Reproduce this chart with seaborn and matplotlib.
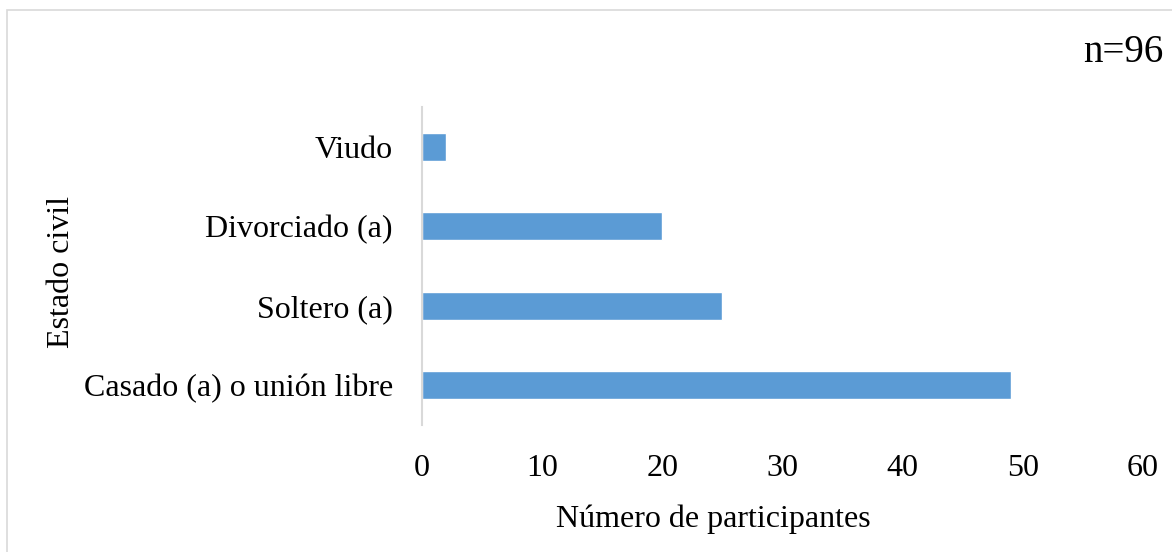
import matplotlib
matplotlib.use("Agg")
import matplotlib.pyplot as plt
import seaborn as sns
import pandas as pd
from matplotlib.patches import Rectangle

categories = ["Viudo", "Divorciado (a)", "Soltero (a)", "Casado (a) o unión libre"]
values = [2, 20, 25, 49]
x_ticks = [0, 10, 20, 30, 40, 50, 60]

sns.set_theme(style="white")
plt.rcParams['font.family'] = ['Liberation Serif', 'DejaVu Serif']
plt.rcParams['text.color'] = 'black'
plt.rcParams['axes.labelcolor'] = 'black'
plt.rcParams['xtick.color'] = 'black'
plt.rcParams['ytick.color'] = 'black'

df = pd.DataFrame({"cat": categories, "val": values})

fig = plt.figure(figsize=(11.72, 5.52), dpi=100)
ax = fig.add_axes([422/1172, 1-425/552, (1143-422)/1172, (425-107)/552])

sns.barplot(data=df, x="val", y="cat", orient="h", color="#5B9BD5",
            saturation=1, width=0.35, ax=ax)

ax.set_xlim(0, 60)
ax.set_ylim(3.5, -0.5)
ax.set_xticks(x_ticks)
ax.set_xticklabels([str(t) for t in x_ticks], fontsize=23)
ax.tick_params(axis='x', length=0, pad=21)
ax.tick_params(axis='y', length=0, pad=21, labelsize=23)
for s in ["top", "right", "bottom"]:
    ax.spines[s].set_visible(False)
ax.spines["left"].set_color("#D9D9D9")
ax.spines["left"].set_linewidth(1.5)
ax.set_xlabel("Número de participantes", fontsize=23)
ax.xaxis.set_label_coords((713-422)/(1143-422), -(504-425)/(425-107))
ax.set_ylabel("Estado civil", fontsize=23)
ax.yaxis.set_label_coords((76-422)/(1143-422), 0.48)

fig.text(1163/1172, 1-52/552, "n=96", fontsize=28, ha="right", va="center")

fig.patches.append(Rectangle((7/1172, -0.05), 1.2, 1-10/552+0.05,
                             transform=fig.transFigure, fill=False,
                             edgecolor="#D9D9D9", linewidth=1.2))

fig.savefig("out.png", dpi=100)
